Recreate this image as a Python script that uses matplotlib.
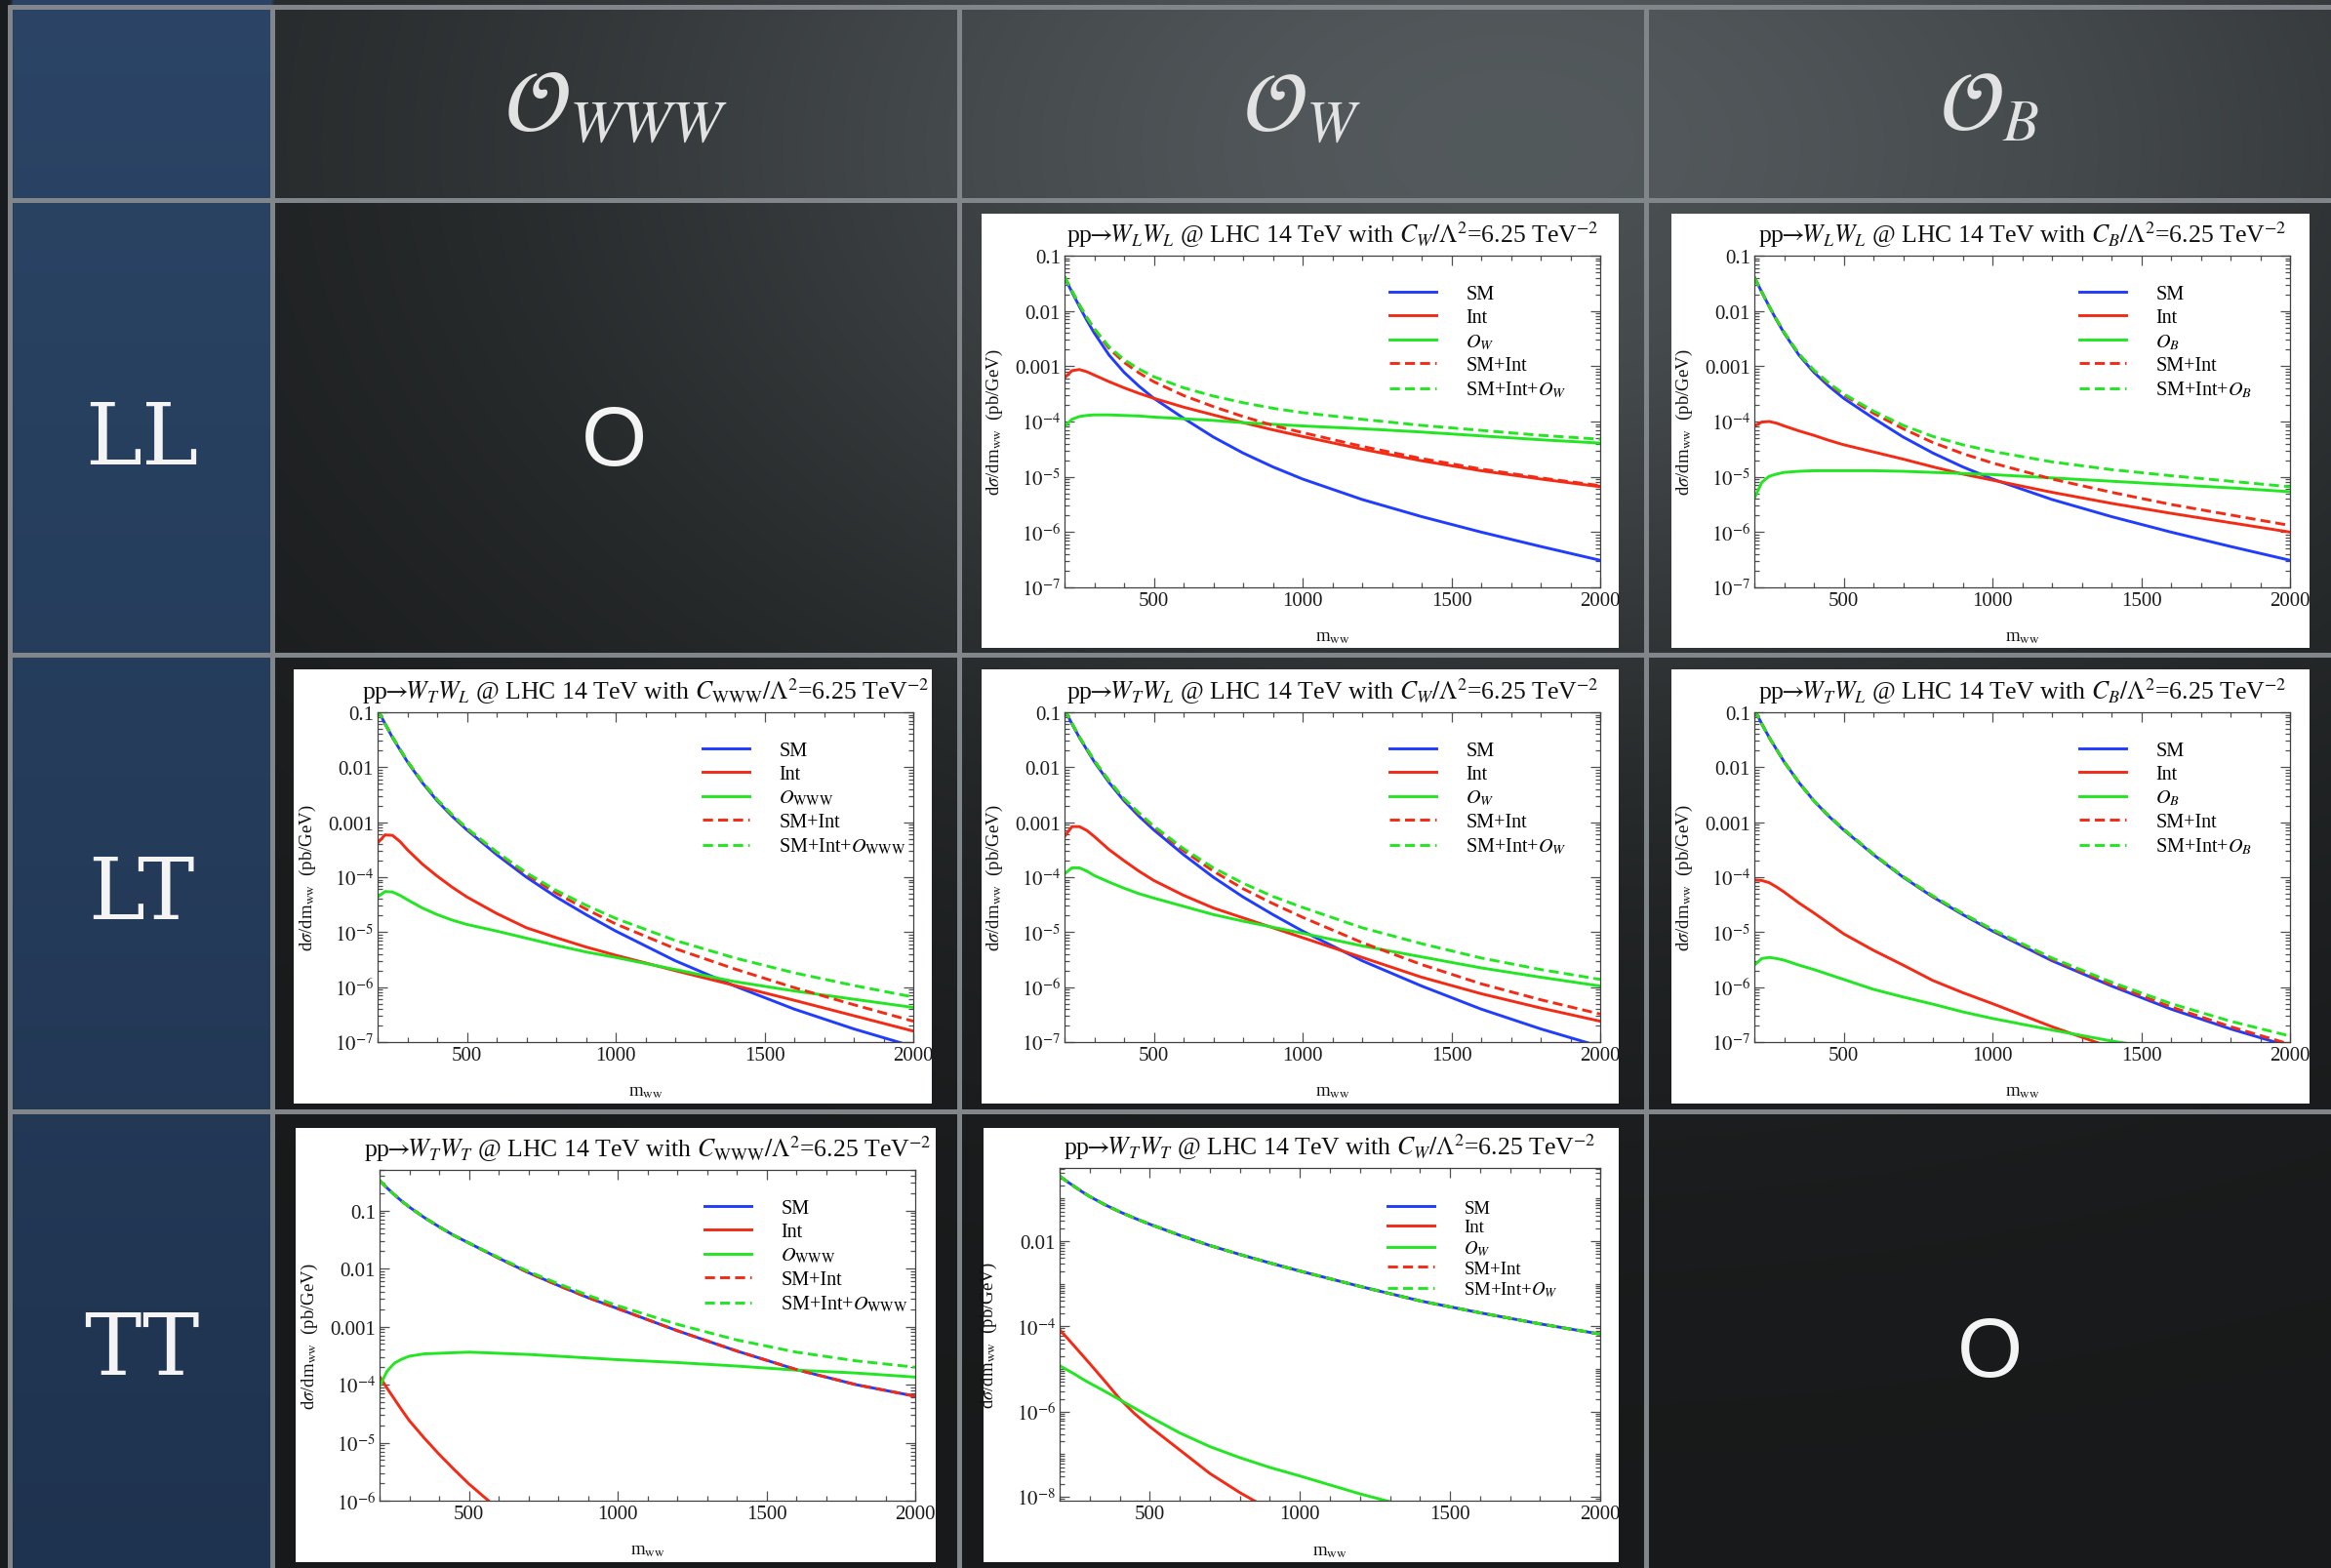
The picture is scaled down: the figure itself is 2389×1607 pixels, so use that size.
import numpy as np
import matplotlib
matplotlib.use("Agg")
import matplotlib.pyplot as plt
from matplotlib.patches import Rectangle
from matplotlib.ticker import LogLocator, MultipleLocator, FixedLocator, FuncFormatter, NullFormatter

plt.rcParams['font.family'] = ['Liberation Serif', 'DejaVu Serif']
plt.rcParams['mathtext.fontset'] = 'stix'

nan = np.nan

# ---------------- data (log10 of dsigma/dm_ww in pb/GeV) ----------------
MWW = [200, 225, 250, 275, 300, 350, 400, 450, 500, 600, 700, 800, 900, 1000, 1200, 1400, 1600, 1800, 2000]

LL_W_SM  = [-1.39, -1.66, -1.92, -2.17, -2.40, -2.80, -3.11, -3.36, -3.58, -3.94, -4.28, -4.57, -4.82, -5.04, -5.41, -5.72, -6.00, -6.26, -6.51]
LL_W_INT = [-3.21, -3.08, -3.06, -3.10, -3.16, -3.28, -3.39, -3.49, -3.58, -3.74, -3.88, -4.02, -4.15, -4.27, -4.50, -4.71, -4.89, -5.04, -5.18]
LL_W_OP  = [-4.09, -3.96, -3.91, -3.89, -3.88, -3.88, -3.89, -3.90, -3.92, -3.95, -3.98, -4.02, -4.05, -4.08, -4.13, -4.19, -4.26, -4.33, -4.39]
LL_W_SMI = [-1.38, -1.64, -1.89, -2.12, -2.33, -2.68, -2.93, -3.12, -3.28, -3.53, -3.73, -3.91, -4.07, -4.20, -4.45, -4.67, -4.86, -5.02, -5.16]
LL_W_ALL = [-1.38, -1.64, -1.89, -2.12, -2.32, -2.65, -2.88, -3.05, -3.19, -3.39, -3.54, -3.66, -3.76, -3.84, -3.96, -4.07, -4.16, -4.25, -4.32]

LL_B_SM  = [-1.39, -1.66, -1.92, -2.17, -2.40, -2.80, -3.11, -3.36, -3.58, -3.94, -4.28, -4.57, -4.82, -5.04, -5.41, -5.72, -6.00, -6.26, -6.51]
LL_B_INT = [-4.08, -4.01, -4.00, -4.03, -4.08, -4.17, -4.25, -4.34, -4.42, -4.55, -4.68, -4.82, -4.95, -5.06, -5.28, -5.48, -5.66, -5.83, -6.00]
LL_B_OP  = [-5.39, -5.10, -4.99, -4.95, -4.92, -4.90, -4.89, -4.89, -4.89, -4.89, -4.90, -4.92, -4.94, -4.96, -5.02, -5.08, -5.14, -5.20, -5.27]
LL_B_SMI = [-1.39, -1.66, -1.92, -2.16, -2.39, -2.78, -3.08, -3.32, -3.52, -3.85, -4.13, -4.38, -4.58, -4.75, -5.04, -5.28, -5.50, -5.69, -5.88]
LL_B_ALL = [-1.39, -1.66, -1.92, -2.16, -2.39, -2.78, -3.07, -3.30, -3.50, -3.81, -4.07, -4.27, -4.42, -4.54, -4.73, -4.87, -4.98, -5.08, -5.18]

LT_WWW_SM  = [-0.95, -1.21, -1.46, -1.68, -1.90, -2.28, -2.61, -2.89, -3.14, -3.59, -4.00, -4.36, -4.68, -4.98, -5.52, -5.98, -6.40, -6.76, -7.08]
LT_WWW_INT = [-3.38, -3.23, -3.24, -3.35, -3.50, -3.76, -3.98, -4.18, -4.36, -4.66, -4.92, -5.10, -5.27, -5.42, -5.70, -5.97, -6.24, -6.52, -6.80]
LT_WWW_OP  = [-4.36, -4.26, -4.27, -4.33, -4.41, -4.56, -4.68, -4.78, -4.86, -4.98, -5.11, -5.24, -5.36, -5.46, -5.68, -5.90, -6.07, -6.22, -6.37]
LT_WWW_SMI = [-0.95, -1.21, -1.45, -1.67, -1.89, -2.27, -2.59, -2.87, -3.12, -3.55, -3.95, -4.29, -4.58, -4.85, -5.30, -5.67, -6.01, -6.32, -6.62]
LT_WWW_ALL = [-0.95, -1.21, -1.45, -1.67, -1.89, -2.26, -2.59, -2.86, -3.11, -3.54, -3.92, -4.24, -4.51, -4.75, -5.15, -5.47, -5.74, -5.97, -6.18]

LT_W_SM  = [-0.95, -1.21, -1.46, -1.68, -1.90, -2.28, -2.61, -2.89, -3.14, -3.59, -4.00, -4.36, -4.68, -4.98, -5.52, -5.98, -6.40, -6.76, -7.08]
LT_W_INT = [-3.26, -3.08, -3.08, -3.15, -3.26, -3.50, -3.70, -3.89, -4.06, -4.33, -4.56, -4.74, -4.92, -5.10, -5.46, -5.82, -6.12, -6.38, -6.62]
LT_W_OP  = [-3.94, -3.83, -3.83, -3.89, -3.97, -4.09, -4.20, -4.30, -4.38, -4.53, -4.68, -4.80, -4.91, -5.02, -5.25, -5.45, -5.65, -5.82, -5.98]
LT_W_SMI = [-0.95, -1.20, -1.45, -1.67, -1.88, -2.25, -2.58, -2.85, -3.09, -3.52, -3.89, -4.21, -4.48, -4.73, -5.19, -5.59, -5.94, -6.23, -6.49]
LT_W_ALL = [-0.95, -1.20, -1.45, -1.66, -1.88, -2.25, -2.57, -2.83, -3.07, -3.48, -3.83, -4.11, -4.35, -4.55, -4.92, -5.21, -5.47, -5.68, -5.86]

LT_B_SM  = [-0.95, -1.21, -1.46, -1.68, -1.90, -2.28, -2.61, -2.89, -3.14, -3.59, -4.00, -4.36, -4.68, -4.98, -5.52, -5.98, -6.40, -6.76, -7.08]
LT_B_INT = [-4.05, -4.06, -4.10, -4.18, -4.27, -4.47, -4.65, -4.84, -5.03, -5.33, -5.60, -5.88, -6.10, -6.30, -6.72, -7.10, -7.45, -7.75, -8.05]
LT_B_OP  = [-5.60, -5.48, -5.46, -5.48, -5.51, -5.60, -5.68, -5.77, -5.86, -6.04, -6.18, -6.31, -6.45, -6.57, -6.78, -6.98, -7.15, -7.30, -7.45]
LT_B_SMI = [-0.95, -1.21, -1.46, -1.68, -1.90, -2.28, -2.61, -2.88, -3.13, -3.58, -3.99, -4.35, -4.66, -4.96, -5.49, -5.95, -6.36, -6.72, -7.04]
LT_B_ALL = [-0.95, -1.21, -1.46, -1.68, -1.90, -2.28, -2.61, -2.88, -3.13, -3.58, -3.99, -4.34, -4.66, -4.95, -5.47, -5.91, -6.30, -6.62, -6.89]

TT_WWW_SM  = [-0.48, -0.61, -0.73, -0.84, -0.94, -1.12, -1.28, -1.43, -1.56, -1.82, -2.07, -2.29, -2.50, -2.69, -3.07, -3.42, -3.74, -4.00, -4.20]
TT_WWW_INT = [-3.86, -4.06, -4.25, -4.44, -4.62, -4.92, -5.20, -5.46, -5.71, -6.15, nan, nan, nan, nan, nan, nan, nan, nan, nan]
TT_WWW_OP  = [-4.03, -3.77, -3.63, -3.56, -3.51, -3.47, -3.46, -3.45, -3.44, -3.46, -3.48, -3.51, -3.54, -3.57, -3.62, -3.68, -3.75, -3.80, -3.87]
TT_WWW_SMI = [-0.48, -0.61, -0.73, -0.84, -0.94, -1.12, -1.28, -1.43, -1.56, -1.82, -2.07, -2.29, -2.50, -2.69, -3.07, -3.42, -3.74, -4.00, -4.20]
TT_WWW_ALL = [-0.48, -0.61, -0.73, -0.84, -0.94, -1.12, -1.28, -1.43, -1.56, -1.81, -2.05, -2.26, -2.46, -2.64, -2.96, -3.23, -3.44, -3.59, -3.70]

TT_W_SM  = [-0.47, -0.60, -0.72, -0.84, -0.95, -1.14, -1.31, -1.46, -1.60, -1.86, -2.10, -2.31, -2.51, -2.70, -3.06, -3.40, -3.68, -3.94, -4.18]
TT_W_INT = [-4.08, -4.27, -4.47, -4.67, -4.87, -5.28, -5.70, -6.05, -6.35, -6.90, -7.45, -7.90, -8.30, nan, nan, nan, nan, nan, nan]
TT_W_OP  = [-4.92, -5.02, -5.12, -5.23, -5.33, -5.52, -5.72, -5.92, -6.12, -6.50, -6.82, -7.08, -7.31, -7.51, -7.93, -8.30, nan, nan, nan]
TT_W_SMI = [-0.47, -0.60, -0.72, -0.84, -0.95, -1.14, -1.31, -1.46, -1.60, -1.86, -2.10, -2.31, -2.51, -2.70, -3.06, -3.40, -3.68, -3.94, -4.18]
TT_W_ALL = [-0.47, -0.60, -0.72, -0.84, -0.95, -1.14, -1.31, -1.46, -1.60, -1.86, -2.10, -2.31, -2.51, -2.70, -3.06, -3.40, -3.68, -3.94, -4.18]

ROW_LABELS = ["LL", "LT", "TT"]
COL_HEADERS = [r"$\mathcal{O}_{WWW}$", r"$\mathcal{O}_{W}$", r"$\mathcal{O}_{B}$"]
ZERO_LABEL = "O"
SERIES_NAMES = ["SM", "Int", "{op}", "SM+Int", "SM+Int+{op}"]
OP_LABELS = {"WWW": r"$O_{\mathrm{WWW}}$", "W": r"$O_W$", "B": r"$O_B$"}
COEF_LABELS = {"WWW": r"C_{\mathrm{WWW}}", "W": r"C_W", "B": r"C_B"}

# ---------------- figure / slide background ----------------
W, H = 2389, 1608
fig = plt.figure(figsize=(W / 100, H / 100), dpi=100)
bg = fig.add_axes([0, 0, 1, 1], zorder=0)

yy, xx = np.mgrid[0:H:4, 0:W:4].astype(float)
g = np.exp(-(((xx - 1550) / 980.0) ** 2 + ((yy - 150) / 620.0) ** 2))
b = 0.10 + 0.215 * g
b = b + np.where(yy < 206, 0.035, 0.0)
img = np.dstack([b * 0.93, b * 1.0, b * 1.03])
t = yy / H
navy = np.dstack([0.17 - 0.05 * t, 0.27 - 0.07 * t, 0.40 - 0.09 * t])
mask = xx < 279
img[mask] = navy[mask]
img[xx < 10] = (0.10, 0.11, 0.12)
img = np.clip(img, 0, 1)
bg.imshow(img, extent=(0, W, H, 0), interpolation='bilinear', aspect='auto')
bg.set_xlim(0, W)
bg.set_ylim(H, 0)
bg.axis('off')

grid_col = '#80868a'
for x in [10, 279, 983, 1687]:
    bg.plot([x, x], [6, H], color=grid_col, lw=3.6, solid_capstyle='butt')
for y in [8, 206, 672, 1140]:
    bg.plot([8, W], [y, y], color=grid_col, lw=3.6, solid_capstyle='butt')

for lab, yb in zip(ROW_LABELS, [476, 942, 1409]):
    bg.text(145, yb, lab, family='DejaVu Serif', fontsize=63,
            color='#f4f4f4', ha='center', va='baseline')
for lab, xc, fs in zip(COL_HEADERS, [631, 1335, 2039], [64, 62, 62]):
    bg.text(xc, 134, lab, fontsize=fs, color='#e2e2e2', ha='center', va='baseline')
for xc, yb in [(629, 477), (2039, 1411)]:
    bg.text(xc, yb, ZERO_LABEL, family='Liberation Sans', fontsize=62, color='#f4f4f4',
            ha='center', va='baseline')

# ---------------- panels ----------------
BLUE, RED, GREEN = '#1f3cff', '#f42a14', '#22e622'


def fmt_log(v, pos):
    e = int(np.round(np.log10(v)))
    if e >= 0:
        return '%d' % (10 ** e)
    if e >= -3:
        return {-1: '0.1', -2: '0.01', -3: '0.001'}[e]
    return r'$10^{%d}$' % e


def draw_panel(axbox, white, pol, op, series, ylim, major_step=1, leg_top=0.912, leg_sp=0.25, leg_fs=14.5):
    wx0, wy0, wx1, wy1 = white
    bg.add_patch(Rectangle((wx0, wy0), wx1 - wx0, wy1 - wy0, facecolor='white', edgecolor='none', zorder=3))
    x0, y0, x1, y1 = axbox
    ax = fig.add_axes([x0 / W, 1 - y1 / H, (x1 - x0) / W, (y1 - y0) / H], zorder=2)
    m = np.array(MWW, dtype=float)
    sm, it, o, smi, al = [np.power(10.0, np.array(s, dtype=float)) for s in series]
    opl = OP_LABELS[op]
    names = [n.format(op=opl) for n in SERIES_NAMES]
    lw = 2.1
    ax.plot(m, sm, color=BLUE, lw=lw, label=names[0])
    ax.plot(m, it, color=RED, lw=lw, label=names[1])
    ax.plot(m, o, color=GREEN, lw=lw, label=names[2])
    ax.plot(m, smi, color=RED, lw=lw, dashes=(3.5, 1.8), label=names[3])
    ax.plot(m, al, color=GREEN, lw=lw, dashes=(3.5, 1.8), label=names[4])
    ax.set_yscale('log')
    ax.set_xlim(200, 2000)
    ax.set_ylim(10.0 ** ylim[0], 10.0 ** ylim[1])
    ax.xaxis.set_major_locator(MultipleLocator(500))
    ax.xaxis.set_minor_locator(MultipleLocator(100))
    lo, hi = int(np.ceil(ylim[0] - 1e-9)), int(np.floor(ylim[1] + 1e-9))
    majors = [e for e in range(lo, hi + 1) if e % major_step == 0]
    ax.yaxis.set_major_locator(FixedLocator([10.0 ** e for e in majors]))
    minors = [k * 10.0 ** e for e in range(lo - 1, hi + 1) for k in range(1, 10)
              if 10.0 ** ylim[0] <= k * 10.0 ** e <= 10.0 ** ylim[1] and not (k == 1 and e in majors)]
    ax.yaxis.set_minor_locator(FixedLocator(minors))
    ax.yaxis.set_major_formatter(FuncFormatter(fmt_log))
    ax.yaxis.set_minor_formatter(NullFormatter())
    ax.tick_params(which='both', direction='in', top=True, right=True, color='#505050', width=0.9)
    ax.tick_params(which='major', length=7, labelsize=15, labelcolor='#1a1a1a', pad=3)
    ax.tick_params(which='minor', length=3.5)
    for s in ax.spines.values():
        s.set_color('#404040')
        s.set_linewidth(0.9)
    title = (r"pp$\!\!\rightarrow\!\!W_%s W_%s$ @ LHC 14 TeV with $%s/\Lambda^2$=6.25 TeV$^{-2}$"
             % (pol[0], pol[1], COEF_LABELS[op]))
    ax.set_title(title, fontsize=18.5, pad=10, color='#111111')
    ax.set_ylabel(r"d$\sigma$/dm$_{\mathrm{ww}}$  (pb/GeV)", fontsize=13.5, color='#111111')
    ax.yaxis.set_label_coords(-0.112, 0.5)
    ax.set_xlabel(r"m$_{\mathrm{ww}}$", fontsize=13.5, color='#111111')
    ax.xaxis.set_label_coords(0.5, -0.125)
    fs_px = leg_fs / 0.72
    ax.legend(loc='upper left', bbox_to_anchor=(0.607, leg_top), frameon=False, fontsize=leg_fs,
              borderpad=0, borderaxespad=0, handlelength=48 / fs_px, handletextpad=30 / fs_px,
              labelspacing=leg_sp)
    return ax


draw_panel((1091, 263, 1640, 603), (1006, 220, 1659, 665), "LL", "W",
           [LL_W_SM, LL_W_INT, LL_W_OP, LL_W_SMI, LL_W_ALL], (-7, -1))
draw_panel((1798, 263, 2347, 603), (1713, 220, 2367, 665), "LL", "B",
           [LL_B_SM, LL_B_INT, LL_B_OP, LL_B_SMI, LL_B_ALL], (-7, -1))
draw_panel((387, 731, 936, 1069), (301, 687, 955, 1132), "TL", "WWW",
           [LT_WWW_SM, LT_WWW_INT, LT_WWW_OP, LT_WWW_SMI, LT_WWW_ALL], (-7, -1))
draw_panel((1091, 731, 1640, 1069), (1006, 687, 1659, 1132), "TL", "W",
           [LT_W_SM, LT_W_INT, LT_W_OP, LT_W_SMI, LT_W_ALL], (-7, -1))
draw_panel((1798, 731, 2347, 1069), (1713, 687, 2367, 1132), "TL", "B",
           [LT_B_SM, LT_B_INT, LT_B_OP, LT_B_SMI, LT_B_ALL], (-7, -1))
draw_panel((389, 1200, 938, 1539), (303, 1157, 959, 1602), "TT", "WWW",
           [TT_WWW_SM, TT_WWW_INT, TT_WWW_OP, TT_WWW_SMI, TT_WWW_ALL], (-6, -0.30))
draw_panel((1086, 1198, 1640, 1539), (1008, 1157, 1659, 1602), "TT", "W",
           [TT_W_SM, TT_W_INT, TT_W_OP, TT_W_SMI, TT_W_ALL], (-8.09, -0.28), major_step=2,
           leg_top=0.905, leg_sp=0.15, leg_fs=13.5)

fig.savefig("out.png", dpi=100)
